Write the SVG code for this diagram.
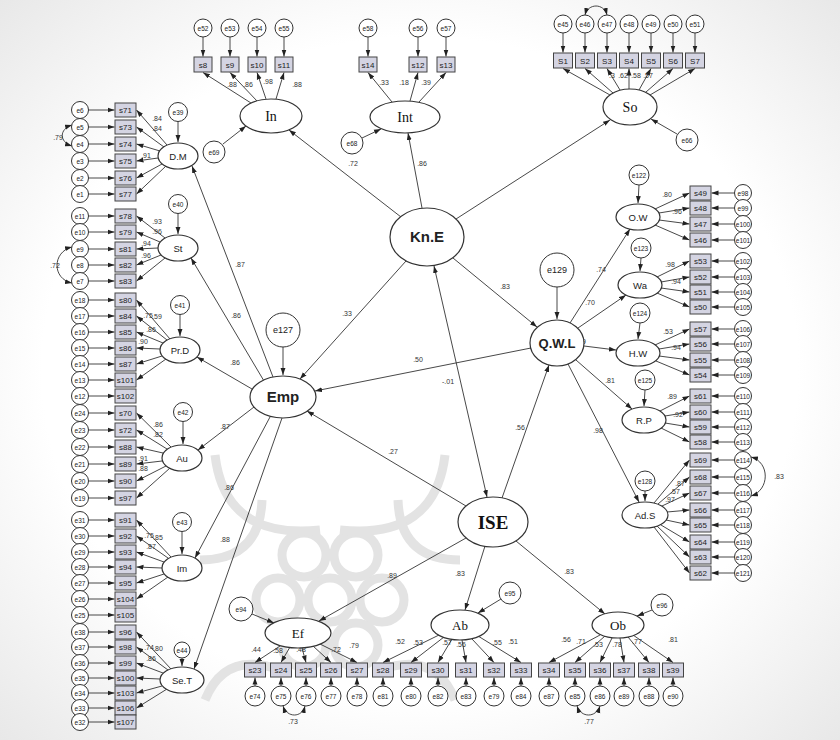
<svg xmlns="http://www.w3.org/2000/svg" width="840" height="740" viewBox="0 0 840 740">
<defs>
<radialGradient id="bg" cx="50%" cy="50%" r="75%"><stop offset="0.6" stop-color="#ffffff"/><stop offset="1" stop-color="#e4e4e4"/></radialGradient>
<marker id="a" viewBox="0 0 10 10" refX="10" refY="5" markerWidth="7" markerHeight="7" orient="auto" markerUnits="userSpaceOnUse"><path d="M0,1.5 L10,5 L0,8.5 z" fill="#222"/></marker>
<marker id="a2" viewBox="0 0 10 10" refX="10" refY="5" markerWidth="7" markerHeight="7" orient="auto-start-reverse" markerUnits="userSpaceOnUse"><path d="M0,1.5 L10,5 L0,8.5 z" fill="#222"/></marker>
</defs>
<style>
.c{stroke:#333;stroke-width:0.9;fill:none}
.ar{marker-end:url(#a)}
.db{marker-start:url(#a2);marker-end:url(#a2)}
.e{fill:#fff;stroke:#333;stroke-width:1}
.b{fill:#d4d4e2;stroke:#444;stroke-width:1}
.l{fill:#fff;stroke:#333;stroke-width:1.2}
.tx{font-family:"Liberation Sans",Arial,sans-serif;fill:#222;text-anchor:middle}
.et{font-size:6.5px}
.bt{font-size:8px}
.lt{font-size:9.5px}
.big{font-size:15px;font-weight:bold}
.pl{font-family:"Liberation Sans",Arial,sans-serif;font-size:7px;fill:#333;text-anchor:middle}
.sf{font-family:"Liberation Serif","Times New Roman",serif;fill:#111;text-anchor:middle}
</style>
<rect width="840" height="740" fill="url(#bg)"/>
<g id="watermark" fill="none" stroke="#e3e3e3" stroke-width="9">
<circle cx="330" cy="600" r="22"/>
<circle cx="382" cy="600" r="22"/><circle cx="356" cy="645" r="22"/><circle cx="304" cy="645" r="22"/>
<circle cx="278" cy="600" r="22"/><circle cx="304" cy="555" r="22"/><circle cx="356" cy="555" r="22"/>
<path d="M215,455 Q225,540 320,530"/><path d="M445,455 Q435,540 340,530"/>
<path d="M200,560 Q260,560 262,500"/><path d="M460,560 Q400,560 398,500"/>
<path d="M205,700 Q225,650 280,670"/><path d="M455,700 Q435,650 380,670"/>
</g>

<g id="connectors">
<!-- structural -->
<line class="c ar" x1="401" y1="217" x2="289" y2="130"/>
<line class="c ar" x1="422" y1="208" x2="408" y2="133"/>
<line class="c ar" x1="456" y1="219" x2="610" y2="120"/>
<line class="c ar" x1="453" y1="258" x2="537" y2="327"/>
<line class="c ar" x1="406" y1="261" x2="300" y2="379"/>
<line class="c ar" x1="531" y1="348" x2="315" y2="391"/>
<line class="c db" x1="487" y1="497" x2="434" y2="266"/>
<line class="c ar" x1="502" y1="498" x2="549" y2="365"/>
<line class="c ar" x1="466" y1="506" x2="307" y2="411"/>
<line class="c ar" x1="466" y1="538" x2="319" y2="621"/>
<line class="c ar" x1="485" y1="546" x2="465" y2="610"/>
<line class="c ar" x1="516" y1="541" x2="605" y2="614"/>
<line class="c ar" x1="570" y1="323" x2="630" y2="229"/>
<line class="c ar" x1="578" y1="328" x2="626" y2="295"/>
<line class="c ar" x1="584" y1="346" x2="616" y2="350"/>
<line class="c ar" x1="576" y1="360" x2="632" y2="409"/>
<line class="c ar" x1="568" y1="364" x2="639" y2="502"/>
<line class="c ar" x1="273" y1="377" x2="192" y2="166"/>
<line class="c ar" x1="264" y1="381" x2="191" y2="258"/>
<line class="c ar" x1="252" y1="389" x2="197" y2="357"/>
<line class="c ar" x1="254" y1="407" x2="198" y2="450"/>
<line class="c ar" x1="270" y1="417" x2="195" y2="558"/>
<line class="c ar" x1="282" y1="418" x2="194" y2="669"/>
<!-- residuals -->
<line class="c ar" x1="178" y1="121" x2="178" y2="142"/>
<line class="c ar" x1="178" y1="213" x2="178" y2="234"/>
<line class="c ar" x1="180" y1="314" x2="180" y2="336"/>
<line class="c ar" x1="183" y1="421" x2="183" y2="444"/>
<line class="c ar" x1="182" y1="531" x2="182" y2="554"/>
<line class="c ar" x1="182" y1="658" x2="182" y2="666"/>
<line class="c ar" x1="283" y1="347" x2="283" y2="375"/>
<line class="c ar" x1="557" y1="287" x2="557" y2="319"/>
<line class="c ar" x1="639" y1="185" x2="638" y2="203"/>
<line class="c ar" x1="641" y1="258" x2="640" y2="271"/>
<line class="c ar" x1="640" y1="323" x2="638" y2="339"/>
<line class="c ar" x1="645" y1="390" x2="644" y2="406"/>
<line class="c ar" x1="645" y1="491" x2="645" y2="501"/>
<line class="c ar" x1="252" y1="614" x2="274" y2="623"/>
<line class="c ar" x1="501" y1="599" x2="478" y2="613"/>
<line class="c ar" x1="652" y1="610" x2="637" y2="616"/>
<line class="c ar" x1="223" y1="144" x2="246" y2="126"/>
<line class="c ar" x1="362" y1="138" x2="381" y2="129"/>
<line class="c ar" x1="677" y1="134" x2="651" y2="119"/>
<!-- top indicators -->
<line class="c ar" x1="251" y1="103" x2="203" y2="72.5"/>
<line class="c ar" x1="257" y1="101" x2="230" y2="72.5"/>
<line class="c ar" x1="266" y1="99" x2="257" y2="72.5"/>
<line class="c ar" x1="276" y1="99" x2="284" y2="72.5"/>
<line class="c ar" x1="392" y1="102" x2="368" y2="72.5"/>
<line class="c ar" x1="410" y1="101" x2="418" y2="72.5"/>
<line class="c ar" x1="419" y1="102" x2="446" y2="72.5"/>
<line class="c ar" x1="610" y1="95" x2="563" y2="68.5"/>
<line class="c ar" x1="613" y1="93" x2="585" y2="68.5"/>
<line class="c ar" x1="620" y1="90" x2="607" y2="68.5"/>
<line class="c ar" x1="629" y1="89" x2="629" y2="68.5"/>
<line class="c ar" x1="639" y1="90" x2="651" y2="68.5"/>
<line class="c ar" x1="646" y1="92" x2="673" y2="68.5"/>
<line class="c ar" x1="650" y1="95" x2="695" y2="68.5"/>
<line class="c ar" x1="203" y1="37" x2="203" y2="56.5"/>
<line class="c ar" x1="230" y1="37" x2="230" y2="56.5"/>
<line class="c ar" x1="257" y1="37" x2="257" y2="56.5"/>
<line class="c ar" x1="284" y1="37" x2="284" y2="56.5"/>
<line class="c ar" x1="368" y1="37" x2="368" y2="56.5"/>
<line class="c ar" x1="418" y1="37" x2="418" y2="56.5"/>
<line class="c ar" x1="446" y1="37" x2="446" y2="56.5"/>
<line class="c ar" x1="563" y1="33" x2="563" y2="52.5"/>
<line class="c ar" x1="585" y1="33" x2="585" y2="52.5"/>
<line class="c ar" x1="607" y1="33" x2="607" y2="52.5"/>
<line class="c ar" x1="629" y1="33" x2="629" y2="52.5"/>
<line class="c ar" x1="651" y1="33" x2="651" y2="52.5"/>
<line class="c ar" x1="673" y1="33" x2="673" y2="52.5"/>
<line class="c ar" x1="695" y1="33" x2="695" y2="52.5"/>
<path class="c db" d="M585,15 C588,3 604,3 607,15"/>
<!-- left indicators -->
<line class="c ar" x1="167" y1="145" x2="136.5" y2="110"/>
<line class="c ar" x1="164" y1="147" x2="136.5" y2="127"/>
<line class="c ar" x1="160" y1="151" x2="136.5" y2="144"/>
<line class="c ar" x1="158" y1="158" x2="136.5" y2="161"/>
<line class="c ar" x1="162" y1="164" x2="136.5" y2="178"/>
<line class="c ar" x1="166" y1="166" x2="136.5" y2="194"/>
<line class="c ar" x1="165" y1="238" x2="136.5" y2="216"/>
<line class="c ar" x1="160" y1="242" x2="136.5" y2="232"/>
<line class="c ar" x1="158" y1="248" x2="136.5" y2="249"/>
<line class="c ar" x1="161" y1="255" x2="136.5" y2="265"/>
<line class="c ar" x1="165" y1="258" x2="136.5" y2="281"/>
<line class="c ar" x1="170" y1="339" x2="136.5" y2="300"/>
<line class="c ar" x1="167" y1="340" x2="136.5" y2="316"/>
<line class="c ar" x1="163" y1="343" x2="136.5" y2="332"/>
<line class="c ar" x1="160" y1="349" x2="136.5" y2="348"/>
<line class="c ar" x1="162" y1="356" x2="136.5" y2="364"/>
<line class="c ar" x1="166" y1="359" x2="136.5" y2="380"/>
<line class="c ar" x1="171" y1="447" x2="136.5" y2="413"/>
<line class="c ar" x1="167" y1="449" x2="136.5" y2="430"/>
<line class="c ar" x1="163" y1="453" x2="136.5" y2="447"/>
<line class="c ar" x1="162" y1="461" x2="136.5" y2="464"/>
<line class="c ar" x1="166" y1="466" x2="136.5" y2="481"/>
<line class="c ar" x1="170" y1="468" x2="136.5" y2="498"/>
<line class="c ar" x1="171" y1="557" x2="136.5" y2="520"/>
<line class="c ar" x1="168" y1="558" x2="136.5" y2="536"/>
<line class="c ar" x1="164" y1="562" x2="136.5" y2="552"/>
<line class="c ar" x1="162" y1="568" x2="136.5" y2="567"/>
<line class="c ar" x1="164" y1="574" x2="136.5" y2="583"/>
<line class="c ar" x1="168" y1="577" x2="136.5" y2="599"/>
<line class="c ar" x1="171" y1="669" x2="136.5" y2="632"/>
<line class="c ar" x1="168" y1="670" x2="136.5" y2="647"/>
<line class="c ar" x1="163" y1="673" x2="136.5" y2="663"/>
<line class="c ar" x1="160" y1="679" x2="136.5" y2="678"/>
<line class="c ar" x1="162" y1="686" x2="136.5" y2="693"/>
<line class="c ar" x1="167" y1="689" x2="136.5" y2="708"/>
<!-- left error arrows -->
<line class="c ar" x1="88.5" y1="110" x2="114.5" y2="110"/><line class="c ar" x1="88.5" y1="127" x2="114.5" y2="127"/><line class="c ar" x1="88.5" y1="144" x2="114.5" y2="144"/><line class="c ar" x1="88.5" y1="161" x2="114.5" y2="161"/><line class="c ar" x1="88.5" y1="178" x2="114.5" y2="178"/><line class="c ar" x1="88.5" y1="194" x2="114.5" y2="194"/>
<line class="c ar" x1="88.5" y1="216" x2="114.5" y2="216"/><line class="c ar" x1="88.5" y1="232" x2="114.5" y2="232"/><line class="c ar" x1="88.5" y1="249" x2="114.5" y2="249"/><line class="c ar" x1="88.5" y1="265" x2="114.5" y2="265"/><line class="c ar" x1="88.5" y1="281" x2="114.5" y2="281"/>
<line class="c ar" x1="88.5" y1="300" x2="114.5" y2="300"/><line class="c ar" x1="88.5" y1="316" x2="114.5" y2="316"/><line class="c ar" x1="88.5" y1="332" x2="114.5" y2="332"/><line class="c ar" x1="88.5" y1="348" x2="114.5" y2="348"/><line class="c ar" x1="88.5" y1="364" x2="114.5" y2="364"/><line class="c ar" x1="88.5" y1="380" x2="114.5" y2="380"/><line class="c ar" x1="88.5" y1="396" x2="114.5" y2="396"/>
<line class="c ar" x1="88.5" y1="413" x2="114.5" y2="413"/><line class="c ar" x1="88.5" y1="430" x2="114.5" y2="430"/><line class="c ar" x1="88.5" y1="447" x2="114.5" y2="447"/><line class="c ar" x1="88.5" y1="464" x2="114.5" y2="464"/><line class="c ar" x1="88.5" y1="481" x2="114.5" y2="481"/><line class="c ar" x1="88.5" y1="498" x2="114.5" y2="498"/>
<line class="c ar" x1="88.5" y1="520" x2="114.5" y2="520"/><line class="c ar" x1="88.5" y1="536" x2="114.5" y2="536"/><line class="c ar" x1="88.5" y1="552" x2="114.5" y2="552"/><line class="c ar" x1="88.5" y1="567" x2="114.5" y2="567"/><line class="c ar" x1="88.5" y1="583" x2="114.5" y2="583"/><line class="c ar" x1="88.5" y1="599" x2="114.5" y2="599"/><line class="c ar" x1="88.5" y1="615" x2="114.5" y2="615"/>
<line class="c ar" x1="88.5" y1="632" x2="114.5" y2="632"/><line class="c ar" x1="88.5" y1="647" x2="114.5" y2="647"/><line class="c ar" x1="88.5" y1="663" x2="114.5" y2="663"/><line class="c ar" x1="88.5" y1="678" x2="114.5" y2="678"/><line class="c ar" x1="88.5" y1="693" x2="114.5" y2="693"/><line class="c ar" x1="88.5" y1="708" x2="114.5" y2="708"/><line class="c ar" x1="88.5" y1="722" x2="114.5" y2="722"/>
<path class="c db" d="M72,125 C59,129 59,142 72,146"/>
<path class="c db" d="M72,247 C52,252 52,279 72,283"/>
<!-- right indicators -->
<line class="c ar" x1="655" y1="209" x2="689.5" y2="193"/><line class="c ar" x1="659" y1="213" x2="689.5" y2="208"/><line class="c ar" x1="659" y1="220" x2="689.5" y2="224"/><line class="c ar" x1="655" y1="225" x2="689.5" y2="240"/>
<line class="c ar" x1="657" y1="277" x2="689.5" y2="261"/><line class="c ar" x1="661" y1="282" x2="689.5" y2="277"/><line class="c ar" x1="661" y1="288" x2="689.5" y2="292"/><line class="c ar" x1="657" y1="293" x2="689.5" y2="307"/>
<line class="c ar" x1="655" y1="345" x2="689.5" y2="329"/><line class="c ar" x1="659" y1="349" x2="689.5" y2="344"/><line class="c ar" x1="659" y1="356" x2="689.5" y2="360"/><line class="c ar" x1="656" y1="361" x2="689.5" y2="375"/>
<line class="c ar" x1="660" y1="411" x2="689.5" y2="396"/><line class="c ar" x1="665" y1="416" x2="689.5" y2="412"/><line class="c ar" x1="665" y1="423" x2="689.5" y2="427"/><line class="c ar" x1="661" y1="428" x2="689.5" y2="442"/>
<line class="c ar" x1="654" y1="503" x2="689.5" y2="460"/><line class="c ar" x1="658" y1="504" x2="689.5" y2="477"/><line class="c ar" x1="662" y1="506" x2="689.5" y2="493"/><line class="c ar" x1="667" y1="512" x2="689.5" y2="510"/><line class="c ar" x1="666" y1="520" x2="689.5" y2="525"/><line class="c ar" x1="661" y1="525" x2="689.5" y2="542"/><line class="c ar" x1="657" y1="526" x2="689.5" y2="557"/><line class="c ar" x1="654" y1="527" x2="689.5" y2="573"/>
<!-- right error arrows -->
<line class="c ar" x1="734.5" y1="193" x2="711.5" y2="193"/><line class="c ar" x1="734.5" y1="208" x2="711.5" y2="208"/><line class="c ar" x1="734.5" y1="224" x2="711.5" y2="224"/><line class="c ar" x1="734.5" y1="240" x2="711.5" y2="240"/>
<line class="c ar" x1="734.5" y1="261" x2="711.5" y2="261"/><line class="c ar" x1="734.5" y1="277" x2="711.5" y2="277"/><line class="c ar" x1="734.5" y1="292" x2="711.5" y2="292"/><line class="c ar" x1="734.5" y1="307" x2="711.5" y2="307"/>
<line class="c ar" x1="734.5" y1="329" x2="711.5" y2="329"/><line class="c ar" x1="734.5" y1="344" x2="711.5" y2="344"/><line class="c ar" x1="734.5" y1="360" x2="711.5" y2="360"/><line class="c ar" x1="734.5" y1="375" x2="711.5" y2="375"/>
<line class="c ar" x1="734.5" y1="396" x2="711.5" y2="396"/><line class="c ar" x1="734.5" y1="412" x2="711.5" y2="412"/><line class="c ar" x1="734.5" y1="427" x2="711.5" y2="427"/><line class="c ar" x1="734.5" y1="442" x2="711.5" y2="442"/>
<line class="c ar" x1="734.5" y1="460" x2="711.5" y2="460"/><line class="c ar" x1="734.5" y1="477" x2="711.5" y2="477"/><line class="c ar" x1="734.5" y1="493" x2="711.5" y2="493"/><line class="c ar" x1="734.5" y1="510" x2="711.5" y2="510"/><line class="c ar" x1="734.5" y1="525" x2="711.5" y2="525"/><line class="c ar" x1="734.5" y1="542" x2="711.5" y2="542"/><line class="c ar" x1="734.5" y1="557" x2="711.5" y2="557"/><line class="c ar" x1="734.5" y1="573" x2="711.5" y2="573"/>
<path class="c db" d="M751,457 C770,462 770,490 751,496"/>
<!-- bottom indicators -->
<line class="c ar" x1="280" y1="646" x2="255" y2="662.5"/><line class="c ar" x1="290" y1="647" x2="281" y2="662.5"/><line class="c ar" x1="302" y1="648" x2="306" y2="662.5"/><line class="c ar" x1="313" y1="646" x2="331" y2="662.5"/><line class="c ar" x1="320" y1="644" x2="357" y2="662.5"/>
<line class="c ar" x1="439" y1="635" x2="383" y2="662.5"/><line class="c ar" x1="444" y1="637" x2="411" y2="662.5"/><line class="c ar" x1="452" y1="639" x2="438" y2="662.5"/><line class="c ar" x1="462" y1="640" x2="466" y2="662.5"/><line class="c ar" x1="472" y1="639" x2="494" y2="662.5"/><line class="c ar" x1="478" y1="636" x2="521" y2="662.5"/>
<line class="c ar" x1="600" y1="635" x2="549" y2="662.5"/><line class="c ar" x1="605" y1="636" x2="575" y2="662.5"/><line class="c ar" x1="612" y1="638" x2="600" y2="662.5"/><line class="c ar" x1="620" y1="638" x2="624" y2="662.5"/><line class="c ar" x1="628" y1="637" x2="649" y2="662.5"/><line class="c ar" x1="633" y1="635" x2="673" y2="662.5"/>
<line class="c ar" x1="255" y1="686" x2="255" y2="677.5"/><line class="c ar" x1="281" y1="686" x2="281" y2="677.5"/><line class="c ar" x1="306" y1="686" x2="306" y2="677.5"/><line class="c ar" x1="331" y1="686" x2="331" y2="677.5"/><line class="c ar" x1="357" y1="686" x2="357" y2="677.5"/>
<line class="c ar" x1="383" y1="686" x2="383" y2="677.5"/><line class="c ar" x1="411" y1="686" x2="411" y2="677.5"/><line class="c ar" x1="438" y1="686" x2="438" y2="677.5"/><line class="c ar" x1="466" y1="686" x2="466" y2="677.5"/><line class="c ar" x1="494" y1="686" x2="494" y2="677.5"/><line class="c ar" x1="521" y1="686" x2="521" y2="677.5"/>
<line class="c ar" x1="549" y1="686" x2="549" y2="677.5"/><line class="c ar" x1="575" y1="686" x2="575" y2="677.5"/><line class="c ar" x1="600" y1="686" x2="600" y2="677.5"/><line class="c ar" x1="624" y1="686" x2="624" y2="677.5"/><line class="c ar" x1="649" y1="686" x2="649" y2="677.5"/><line class="c ar" x1="673" y1="686" x2="673" y2="677.5"/>
<path class="c db" d="M283,706 C287,718 302,718 305,706"/>
<path class="c db" d="M577,706 C581,718 596,718 600,706"/>
</g>

<g id="path-labels" class="pl">
<text x="353" y="166">.72</text><text x="422" y="166">.86</text><text x="505" y="289">.83</text><text x="347" y="316">.33</text>
<text x="418" y="362">.50</text><text x="448" y="384">-.01</text><text x="520" y="430">.56</text><text x="393" y="454">.27</text>
<text x="392" y="578">.89</text><text x="460" y="576">.83</text><text x="569" y="574">.83</text>
<text x="601" y="272">.74</text><text x="590" y="305">.70</text><text x="581" y="344">.79</text><text x="610" y="383">.81</text><text x="598" y="433">.98</text>
<text x="240" y="267">.87</text><text x="236" y="318">.86</text><text x="235" y="365">.86</text><text x="225" y="429">.87</text><text x="229" y="490">.86</text><text x="225" y="542">.88</text>
<text x="232" y="87">.88</text><text x="248" y="87">.86</text><text x="268" y="84">.98</text><text x="297" y="87">.88</text>
<text x="384" y="85">.33</text><text x="404" y="85">.18</text><text x="426" y="85">.39</text>
<text x="612" y="78">.3</text><text x="623" y="78">.62</text><text x="636" y="78">.58</text><text x="648" y="78">.57</text>
<text x="157" y="121">.84</text><text x="157" y="131">.84</text><text x="146" y="158">.91</text>
<text x="157" y="224">.93</text><text x="157" y="234">.96</text><text x="146" y="246">.94</text><text x="146" y="258">.96</text>
<text x="148" y="318">.75</text><text x="157" y="319">.59</text><text x="151" y="332">.86</text><text x="143" y="344">.90</text>
<text x="158" y="427">.86</text><text x="158" y="437">.82</text><text x="143" y="461">.91</text><text x="143" y="471">.88</text>
<text x="149" y="538">.75</text><text x="158" y="540">.85</text><text x="151" y="549">.87</text>
<text x="149" y="650">.74</text><text x="158" y="651">.80</text><text x="151" y="661">.86</text>
<text x="667" y="197">.80</text><text x="677" y="214">.96</text><text x="670" y="267">.98</text><text x="676" y="284">.94</text>
<text x="668" y="334">.53</text><text x="676" y="350">.94</text><text x="672" y="399">.89</text><text x="678" y="417">.92</text>
<text x="680" y="486">.87</text><text x="675" y="494">.57</text><text x="670" y="502">.97</text>
<text x="256" y="652">.44</text><text x="278" y="653">.58</text><text x="301" y="652">.48</text><text x="336" y="652">.72</text><text x="354" y="648">.79</text>
<text x="400" y="644">.52</text><text x="418" y="645">.53</text><text x="447" y="645">.57</text><text x="461" y="647">.56</text><text x="497" y="645">.55</text><text x="513" y="644">.51</text>
<text x="566" y="642">.56</text><text x="581" y="644">.71</text><text x="598" y="647">.53</text><text x="617" y="647">.78</text><text x="637" y="644">.77</text><text x="673" y="642">.81</text>
<text x="58" y="140">.79</text><text x="55" y="268">.72</text><text x="779" y="479">.83</text><text x="293" y="724">.73</text><text x="589" y="724">.77</text>
</g>

<!-- central latent nodes -->
<g id="KnE"><ellipse class="l" cx="427" cy="237" rx="37" ry="29"/><text class="tx big" x="427" y="242">Kn.E</text></g>
<g id="QWL"><ellipse class="l" cx="557" cy="343" rx="27" ry="23"/><text class="tx" x="557" y="348" style="font-size:13px;font-weight:bold">Q.W.L</text></g>
<g id="Emp"><ellipse class="l" cx="283" cy="397" rx="33" ry="21"/><text class="tx big" x="283" y="402">Emp</text></g>
<g id="ISE"><ellipse class="l" cx="493" cy="522" rx="35" ry="25"/><text class="sf" x="493" y="529" style="font-size:19px;font-weight:bold">ISE</text></g>
<g id="e127"><circle class="e" cx="283" cy="330" r="17"/><text class="tx" x="283" y="333" style="font-size:9px">e127</text></g>
<g id="e129"><circle class="e" cx="557" cy="270" r="17"/><text class="tx" x="557" y="273" style="font-size:9px">e129</text></g>

<!-- top latents -->
<g id="In"><ellipse class="l" cx="271" cy="116" rx="31" ry="17"/><text class="sf" x="271" y="121" style="font-size:14px">In</text></g>
<g id="Int"><ellipse class="l" cx="405" cy="117" rx="35" ry="16"/><text class="sf" x="405" y="122" style="font-size:14px">Int</text></g>
<g id="So"><ellipse class="l" cx="630" cy="107" rx="27" ry="18"/><text class="sf" x="630" y="112" style="font-size:14px">So</text></g>
<g id="e69"><circle class="e" cx="214" cy="152" r="11"/><text class="tx et" x="214" y="154.5">e69</text></g>
<g id="e68"><circle class="e" cx="352" cy="143" r="11"/><text class="tx et" x="352" y="145.5">e68</text></g>
<g id="e66"><circle class="e" cx="687" cy="140" r="11"/><text class="tx et" x="687" y="142.5">e66</text></g>

<!-- top indicators -->
<g id="s8"><rect class="b" x="194" y="57" width="18" height="15"/><text class="tx bt" x="203" y="67.5">s8</text></g>
<g id="s9"><rect class="b" x="221" y="57" width="18" height="15"/><text class="tx bt" x="230" y="67.5">s9</text></g>
<g id="s10"><rect class="b" x="248" y="57" width="18" height="15"/><text class="tx bt" x="257" y="67.5">s10</text></g>
<g id="s11"><rect class="b" x="275" y="57" width="18" height="15"/><text class="tx bt" x="284" y="67.5">s11</text></g>
<g id="s14"><rect class="b" x="359" y="57" width="18" height="15"/><text class="tx bt" x="368" y="67.5">s14</text></g>
<g id="s12"><rect class="b" x="409" y="57" width="18" height="15"/><text class="tx bt" x="418" y="67.5">s12</text></g>
<g id="s13"><rect class="b" x="437" y="57" width="18" height="15"/><text class="tx bt" x="446" y="67.5">s13</text></g>
<g id="e52"><circle class="e" cx="203" cy="28" r="9"/><text class="tx et" x="203" y="30.5">e52</text></g>
<g id="e53"><circle class="e" cx="230" cy="28" r="9"/><text class="tx et" x="230" y="30.5">e53</text></g>
<g id="e54"><circle class="e" cx="257" cy="28" r="9"/><text class="tx et" x="257" y="30.5">e54</text></g>
<g id="e55"><circle class="e" cx="284" cy="28" r="9"/><text class="tx et" x="284" y="30.5">e55</text></g>
<g id="e58"><circle class="e" cx="368" cy="28" r="9"/><text class="tx et" x="368" y="30.5">e58</text></g>
<g id="e56"><circle class="e" cx="418" cy="28" r="9"/><text class="tx et" x="418" y="30.5">e56</text></g>
<g id="e57"><circle class="e" cx="446" cy="28" r="9"/><text class="tx et" x="446" y="30.5">e57</text></g>
<g id="S1"><rect class="b" x="553.5" y="53" width="19" height="15"/><text class="tx bt" x="563" y="63.5">S1</text></g>
<g id="S2"><rect class="b" x="575.5" y="53" width="19" height="15"/><text class="tx bt" x="585" y="63.5">S2</text></g>
<g id="S3"><rect class="b" x="597.5" y="53" width="19" height="15"/><text class="tx bt" x="607" y="63.5">S3</text></g>
<g id="S4"><rect class="b" x="619.5" y="53" width="19" height="15"/><text class="tx bt" x="629" y="63.5">S4</text></g>
<g id="S5"><rect class="b" x="641.5" y="53" width="19" height="15"/><text class="tx bt" x="651" y="63.5">S5</text></g>
<g id="S6"><rect class="b" x="663.5" y="53" width="19" height="15"/><text class="tx bt" x="673" y="63.5">S6</text></g>
<g id="S7"><rect class="b" x="685.5" y="53" width="19" height="15"/><text class="tx bt" x="695" y="63.5">S7</text></g>
<g id="e45"><circle class="e" cx="563" cy="24" r="9"/><text class="tx et" x="563" y="26.5">e45</text></g>
<g id="e46"><circle class="e" cx="585" cy="24" r="9"/><text class="tx et" x="585" y="26.5">e46</text></g>
<g id="e47"><circle class="e" cx="607" cy="24" r="9"/><text class="tx et" x="607" y="26.5">e47</text></g>
<g id="e48"><circle class="e" cx="629" cy="24" r="9"/><text class="tx et" x="629" y="26.5">e48</text></g>
<g id="e49"><circle class="e" cx="651" cy="24" r="9"/><text class="tx et" x="651" y="26.5">e49</text></g>
<g id="e50"><circle class="e" cx="673" cy="24" r="9"/><text class="tx et" x="673" y="26.5">e50</text></g>
<g id="e51"><circle class="e" cx="695" cy="24" r="9"/><text class="tx et" x="695" y="26.5">e51</text></g>

<!-- left latents -->
<g id="DM"><ellipse class="l" cx="178" cy="156" rx="20" ry="13"/><text class="tx lt" x="178" y="159.5">D.M</text></g>
<g id="St"><ellipse class="l" cx="178" cy="248" rx="20" ry="13"/><text class="tx lt" x="178" y="251.5">St</text></g>
<g id="PrD"><ellipse class="l" cx="180" cy="350" rx="20" ry="13"/><text class="tx lt" x="180" y="353.5">Pr.D</text></g>
<g id="Au"><ellipse class="l" cx="182" cy="458" rx="20" ry="13"/><text class="tx lt" x="182" y="461.5">Au</text></g>
<g id="Im"><ellipse class="l" cx="182" cy="568" rx="20" ry="13"/><text class="tx lt" x="182" y="571.5">Im</text></g>
<g id="SeT"><ellipse class="l" cx="182" cy="680" rx="22" ry="13"/><text class="tx lt" x="182" y="683.5">Se.T</text></g>
<g id="e39"><circle class="e" cx="178" cy="112" r="9.5"/><text class="tx et" x="178" y="114.5">e39</text></g>
<g id="e40"><circle class="e" cx="178" cy="204" r="9.5"/><text class="tx et" x="178" y="206.5">e40</text></g>
<g id="e41"><circle class="e" cx="180" cy="305" r="9.5"/><text class="tx et" x="180" y="307.5">e41</text></g>
<g id="e42"><circle class="e" cx="183" cy="412" r="9.5"/><text class="tx et" x="183" y="414.5">e42</text></g>
<g id="e43"><circle class="e" cx="182" cy="522" r="9.5"/><text class="tx et" x="182" y="524.5">e43</text></g>
<g id="e44"><circle class="e" cx="182" cy="650" r="8"/><text class="tx et" x="182" y="652.5">e44</text></g>

<!-- left indicators -->
<g id="s71"><rect class="b" x="115" y="103" width="21" height="14"/><text class="tx bt" x="125.5" y="113">s71</text></g>
<g id="s73"><rect class="b" x="115" y="120" width="21" height="14"/><text class="tx bt" x="125.5" y="130">s73</text></g>
<g id="s74"><rect class="b" x="115" y="137" width="21" height="14"/><text class="tx bt" x="125.5" y="147">s74</text></g>
<g id="s75"><rect class="b" x="115" y="154" width="21" height="14"/><text class="tx bt" x="125.5" y="164">s75</text></g>
<g id="s76"><rect class="b" x="115" y="171" width="21" height="14"/><text class="tx bt" x="125.5" y="181">s76</text></g>
<g id="s77"><rect class="b" x="115" y="187" width="21" height="14"/><text class="tx bt" x="125.5" y="197">s77</text></g>
<g id="s78"><rect class="b" x="115" y="209" width="21" height="14"/><text class="tx bt" x="125.5" y="219">s78</text></g>
<g id="s79"><rect class="b" x="115" y="225" width="21" height="14"/><text class="tx bt" x="125.5" y="235">s79</text></g>
<g id="s81"><rect class="b" x="115" y="242" width="21" height="14"/><text class="tx bt" x="125.5" y="252">s81</text></g>
<g id="s82"><rect class="b" x="115" y="258" width="21" height="14"/><text class="tx bt" x="125.5" y="268">s82</text></g>
<g id="s83"><rect class="b" x="115" y="274" width="21" height="14"/><text class="tx bt" x="125.5" y="284">s83</text></g>
<g id="s80"><rect class="b" x="115" y="293" width="21" height="14"/><text class="tx bt" x="125.5" y="303">s80</text></g>
<g id="s84"><rect class="b" x="115" y="309" width="21" height="14"/><text class="tx bt" x="125.5" y="319">s84</text></g>
<g id="s85"><rect class="b" x="115" y="325" width="21" height="14"/><text class="tx bt" x="125.5" y="335">s85</text></g>
<g id="s86"><rect class="b" x="115" y="341" width="21" height="14"/><text class="tx bt" x="125.5" y="351">s86</text></g>
<g id="s87"><rect class="b" x="115" y="357" width="21" height="14"/><text class="tx bt" x="125.5" y="367">s87</text></g>
<g id="s101"><rect class="b" x="115" y="373" width="21" height="14"/><text class="tx bt" x="125.5" y="383">s101</text></g>
<g id="s102"><rect class="b" x="115" y="389" width="21" height="14"/><text class="tx bt" x="125.5" y="399">s102</text></g>
<g id="s70"><rect class="b" x="115" y="406" width="21" height="14"/><text class="tx bt" x="125.5" y="416">s70</text></g>
<g id="s72"><rect class="b" x="115" y="423" width="21" height="14"/><text class="tx bt" x="125.5" y="433">s72</text></g>
<g id="s88"><rect class="b" x="115" y="440" width="21" height="14"/><text class="tx bt" x="125.5" y="450">s88</text></g>
<g id="s89"><rect class="b" x="115" y="457" width="21" height="14"/><text class="tx bt" x="125.5" y="467">s89</text></g>
<g id="s90"><rect class="b" x="115" y="474" width="21" height="14"/><text class="tx bt" x="125.5" y="484">s90</text></g>
<g id="s97"><rect class="b" x="115" y="491" width="21" height="14"/><text class="tx bt" x="125.5" y="501">s97</text></g>
<g id="s91"><rect class="b" x="115" y="513" width="21" height="14"/><text class="tx bt" x="125.5" y="523">s91</text></g>
<g id="s92"><rect class="b" x="115" y="529" width="21" height="14"/><text class="tx bt" x="125.5" y="539">s92</text></g>
<g id="s93"><rect class="b" x="115" y="545" width="21" height="14"/><text class="tx bt" x="125.5" y="555">s93</text></g>
<g id="s94"><rect class="b" x="115" y="560" width="21" height="14"/><text class="tx bt" x="125.5" y="570">s94</text></g>
<g id="s95"><rect class="b" x="115" y="576" width="21" height="14"/><text class="tx bt" x="125.5" y="586">s95</text></g>
<g id="s104"><rect class="b" x="115" y="592" width="21" height="14"/><text class="tx bt" x="125.5" y="602">s104</text></g>
<g id="s105"><rect class="b" x="115" y="608" width="21" height="14"/><text class="tx bt" x="125.5" y="618">s105</text></g>
<g id="s96"><rect class="b" x="115" y="625" width="21" height="14"/><text class="tx bt" x="125.5" y="635">s96</text></g>
<g id="s98"><rect class="b" x="115" y="640" width="21" height="14"/><text class="tx bt" x="125.5" y="650">s98</text></g>
<g id="s99"><rect class="b" x="115" y="656" width="21" height="14"/><text class="tx bt" x="125.5" y="666">s99</text></g>
<g id="s100"><rect class="b" x="115" y="671" width="21" height="14"/><text class="tx bt" x="125.5" y="681">s100</text></g>
<g id="s103"><rect class="b" x="115" y="686" width="21" height="14"/><text class="tx bt" x="125.5" y="696">s103</text></g>
<g id="s106"><rect class="b" x="115" y="701" width="21" height="14"/><text class="tx bt" x="125.5" y="711">s106</text></g>
<g id="s107"><rect class="b" x="115" y="715" width="21" height="14"/><text class="tx bt" x="125.5" y="725">s107</text></g>

<!-- left errors -->
<g id="e6"><circle class="e" cx="80" cy="110" r="8.5"/><text class="tx et" x="80" y="112.5">e6</text></g>
<g id="e5"><circle class="e" cx="80" cy="127" r="8.5"/><text class="tx et" x="80" y="129.5">e5</text></g>
<g id="e4"><circle class="e" cx="80" cy="144" r="8.5"/><text class="tx et" x="80" y="146.5">e4</text></g>
<g id="e3"><circle class="e" cx="80" cy="161" r="8.5"/><text class="tx et" x="80" y="163.5">e3</text></g>
<g id="e2"><circle class="e" cx="80" cy="178" r="8.5"/><text class="tx et" x="80" y="180.5">e2</text></g>
<g id="e1"><circle class="e" cx="80" cy="194" r="8.5"/><text class="tx et" x="80" y="196.5">e1</text></g>
<g id="e11"><circle class="e" cx="80" cy="216" r="8.5"/><text class="tx et" x="80" y="218.5">e11</text></g>
<g id="e10"><circle class="e" cx="80" cy="232" r="8.5"/><text class="tx et" x="80" y="234.5">e10</text></g>
<g id="e9"><circle class="e" cx="80" cy="249" r="8.5"/><text class="tx et" x="80" y="251.5">e9</text></g>
<g id="e8"><circle class="e" cx="80" cy="265" r="8.5"/><text class="tx et" x="80" y="267.5">e8</text></g>
<g id="e7"><circle class="e" cx="80" cy="281" r="8.5"/><text class="tx et" x="80" y="283.5">e7</text></g>
<g id="e18"><circle class="e" cx="80" cy="300" r="8.5"/><text class="tx et" x="80" y="302.5">e18</text></g>
<g id="e17"><circle class="e" cx="80" cy="316" r="8.5"/><text class="tx et" x="80" y="318.5">e17</text></g>
<g id="e16"><circle class="e" cx="80" cy="332" r="8.5"/><text class="tx et" x="80" y="334.5">e16</text></g>
<g id="e15"><circle class="e" cx="80" cy="348" r="8.5"/><text class="tx et" x="80" y="350.5">e15</text></g>
<g id="e14"><circle class="e" cx="80" cy="364" r="8.5"/><text class="tx et" x="80" y="366.5">e14</text></g>
<g id="e13"><circle class="e" cx="80" cy="380" r="8.5"/><text class="tx et" x="80" y="382.5">e13</text></g>
<g id="e12"><circle class="e" cx="80" cy="396" r="8.5"/><text class="tx et" x="80" y="398.5">e12</text></g>
<g id="e24"><circle class="e" cx="80" cy="413" r="8.5"/><text class="tx et" x="80" y="415.5">e24</text></g>
<g id="e23"><circle class="e" cx="80" cy="430" r="8.5"/><text class="tx et" x="80" y="432.5">e23</text></g>
<g id="e22"><circle class="e" cx="80" cy="447" r="8.5"/><text class="tx et" x="80" y="449.5">e22</text></g>
<g id="e21"><circle class="e" cx="80" cy="464" r="8.5"/><text class="tx et" x="80" y="466.5">e21</text></g>
<g id="e20"><circle class="e" cx="80" cy="481" r="8.5"/><text class="tx et" x="80" y="483.5">e20</text></g>
<g id="e19"><circle class="e" cx="80" cy="498" r="8.5"/><text class="tx et" x="80" y="500.5">e19</text></g>
<g id="e31"><circle class="e" cx="80" cy="520" r="8.5"/><text class="tx et" x="80" y="522.5">e31</text></g>
<g id="e30"><circle class="e" cx="80" cy="536" r="8.5"/><text class="tx et" x="80" y="538.5">e30</text></g>
<g id="e29"><circle class="e" cx="80" cy="552" r="8.5"/><text class="tx et" x="80" y="554.5">e29</text></g>
<g id="e28"><circle class="e" cx="80" cy="567" r="8.5"/><text class="tx et" x="80" y="569.5">e28</text></g>
<g id="e27"><circle class="e" cx="80" cy="583" r="8.5"/><text class="tx et" x="80" y="585.5">e27</text></g>
<g id="e26"><circle class="e" cx="80" cy="599" r="8.5"/><text class="tx et" x="80" y="601.5">e26</text></g>
<g id="e25"><circle class="e" cx="80" cy="615" r="8.5"/><text class="tx et" x="80" y="617.5">e25</text></g>
<g id="e38"><circle class="e" cx="80" cy="632" r="8.5"/><text class="tx et" x="80" y="634.5">e38</text></g>
<g id="e37"><circle class="e" cx="80" cy="647" r="8.5"/><text class="tx et" x="80" y="649.5">e37</text></g>
<g id="e36"><circle class="e" cx="80" cy="663" r="8.5"/><text class="tx et" x="80" y="665.5">e36</text></g>
<g id="e35"><circle class="e" cx="80" cy="678" r="8.5"/><text class="tx et" x="80" y="680.5">e35</text></g>
<g id="e34"><circle class="e" cx="80" cy="693" r="8.5"/><text class="tx et" x="80" y="695.5">e34</text></g>
<g id="e33"><circle class="e" cx="80" cy="708" r="8.5"/><text class="tx et" x="80" y="710.5">e33</text></g>
<g id="e32"><circle class="e" cx="80" cy="722" r="8.5"/><text class="tx et" x="80" y="724.5">e32</text></g>

<!-- right latents -->
<g id="OW"><ellipse class="l" cx="638" cy="217" rx="22" ry="13"/><text class="tx lt" x="638" y="220.5">O.W</text></g>
<g id="Wa"><ellipse class="l" cx="640" cy="285" rx="22" ry="13"/><text class="tx lt" x="640" y="288.5">Wa</text></g>
<g id="HW"><ellipse class="l" cx="638" cy="353" rx="22" ry="13"/><text class="tx lt" x="638" y="356.5">H.W</text></g>
<g id="RP"><ellipse class="l" cx="644" cy="420" rx="22" ry="13"/><text class="tx lt" x="644" y="423.5">R.P</text></g>
<g id="AdS"><ellipse class="l" cx="645" cy="515" rx="23" ry="13"/><text class="tx lt" x="645" y="518.5">Ad.S</text></g>
<g id="e122"><circle class="e" cx="639" cy="175" r="10"/><text class="tx et" x="639" y="177.5">e122</text></g>
<g id="e123"><circle class="e" cx="641" cy="248" r="10"/><text class="tx et" x="641" y="250.5">e123</text></g>
<g id="e124"><circle class="e" cx="640" cy="313" r="10"/><text class="tx et" x="640" y="315.5">e124</text></g>
<g id="e125"><circle class="e" cx="645" cy="380" r="10"/><text class="tx et" x="645" y="382.5">e125</text></g>
<g id="e128"><circle class="e" cx="645" cy="481" r="10"/><text class="tx et" x="645" y="483.5">e128</text></g>

<!-- right indicators -->
<g id="s49"><rect class="b" x="690" y="186" width="21" height="14"/><text class="tx bt" x="700.5" y="196">s49</text></g>
<g id="s48"><rect class="b" x="690" y="201" width="21" height="14"/><text class="tx bt" x="700.5" y="211">s48</text></g>
<g id="s47"><rect class="b" x="690" y="217" width="21" height="14"/><text class="tx bt" x="700.5" y="227">s47</text></g>
<g id="s46"><rect class="b" x="690" y="233" width="21" height="14"/><text class="tx bt" x="700.5" y="243">s46</text></g>
<g id="s53"><rect class="b" x="690" y="254" width="21" height="14"/><text class="tx bt" x="700.5" y="264">s53</text></g>
<g id="s52"><rect class="b" x="690" y="270" width="21" height="14"/><text class="tx bt" x="700.5" y="280">s52</text></g>
<g id="s51"><rect class="b" x="690" y="285" width="21" height="14"/><text class="tx bt" x="700.5" y="295">s51</text></g>
<g id="s50"><rect class="b" x="690" y="300" width="21" height="14"/><text class="tx bt" x="700.5" y="310">s50</text></g>
<g id="s57"><rect class="b" x="690" y="322" width="21" height="14"/><text class="tx bt" x="700.5" y="332">s57</text></g>
<g id="s56"><rect class="b" x="690" y="337" width="21" height="14"/><text class="tx bt" x="700.5" y="347">s56</text></g>
<g id="s55"><rect class="b" x="690" y="353" width="21" height="14"/><text class="tx bt" x="700.5" y="363">s55</text></g>
<g id="s54"><rect class="b" x="690" y="368" width="21" height="14"/><text class="tx bt" x="700.5" y="378">s54</text></g>
<g id="s61"><rect class="b" x="690" y="389" width="21" height="14"/><text class="tx bt" x="700.5" y="399">s61</text></g>
<g id="s60"><rect class="b" x="690" y="405" width="21" height="14"/><text class="tx bt" x="700.5" y="415">s60</text></g>
<g id="s59"><rect class="b" x="690" y="420" width="21" height="14"/><text class="tx bt" x="700.5" y="430">s59</text></g>
<g id="s58"><rect class="b" x="690" y="435" width="21" height="14"/><text class="tx bt" x="700.5" y="445">s58</text></g>
<g id="s69"><rect class="b" x="690" y="453" width="21" height="14"/><text class="tx bt" x="700.5" y="463">s69</text></g>
<g id="s68"><rect class="b" x="690" y="470" width="21" height="14"/><text class="tx bt" x="700.5" y="480">s68</text></g>
<g id="s67"><rect class="b" x="690" y="486" width="21" height="14"/><text class="tx bt" x="700.5" y="496">s67</text></g>
<g id="s66"><rect class="b" x="690" y="503" width="21" height="14"/><text class="tx bt" x="700.5" y="513">s66</text></g>
<g id="s65"><rect class="b" x="690" y="518" width="21" height="14"/><text class="tx bt" x="700.5" y="528">s65</text></g>
<g id="s64"><rect class="b" x="690" y="535" width="21" height="14"/><text class="tx bt" x="700.5" y="545">s64</text></g>
<g id="s63"><rect class="b" x="690" y="550" width="21" height="14"/><text class="tx bt" x="700.5" y="560">s63</text></g>
<g id="s62"><rect class="b" x="690" y="566" width="21" height="14"/><text class="tx bt" x="700.5" y="576">s62</text></g>

<!-- right errors -->
<g id="e98"><circle class="e" cx="743" cy="193" r="8.5"/><text class="tx et" x="743" y="195.5">e98</text></g>
<g id="e99"><circle class="e" cx="743" cy="208" r="8.5"/><text class="tx et" x="743" y="210.5">e99</text></g>
<g id="e100"><circle class="e" cx="743" cy="224" r="8.5"/><text class="tx et" x="743" y="226.5">e100</text></g>
<g id="e101"><circle class="e" cx="743" cy="240" r="8.5"/><text class="tx et" x="743" y="242.5">e101</text></g>
<g id="e102"><circle class="e" cx="743" cy="261" r="8.5"/><text class="tx et" x="743" y="263.5">e102</text></g>
<g id="e103"><circle class="e" cx="743" cy="277" r="8.5"/><text class="tx et" x="743" y="279.5">e103</text></g>
<g id="e104"><circle class="e" cx="743" cy="292" r="8.5"/><text class="tx et" x="743" y="294.5">e104</text></g>
<g id="e105"><circle class="e" cx="743" cy="307" r="8.5"/><text class="tx et" x="743" y="309.5">e105</text></g>
<g id="e106"><circle class="e" cx="743" cy="329" r="8.5"/><text class="tx et" x="743" y="331.5">e106</text></g>
<g id="e107"><circle class="e" cx="743" cy="344" r="8.5"/><text class="tx et" x="743" y="346.5">e107</text></g>
<g id="e108"><circle class="e" cx="743" cy="360" r="8.5"/><text class="tx et" x="743" y="362.5">e108</text></g>
<g id="e109"><circle class="e" cx="743" cy="375" r="8.5"/><text class="tx et" x="743" y="377.5">e109</text></g>
<g id="e110"><circle class="e" cx="743" cy="396" r="8.5"/><text class="tx et" x="743" y="398.5">e110</text></g>
<g id="e111"><circle class="e" cx="743" cy="412" r="8.5"/><text class="tx et" x="743" y="414.5">e111</text></g>
<g id="e112"><circle class="e" cx="743" cy="427" r="8.5"/><text class="tx et" x="743" y="429.5">e112</text></g>
<g id="e113"><circle class="e" cx="743" cy="442" r="8.5"/><text class="tx et" x="743" y="444.5">e113</text></g>
<g id="e114"><circle class="e" cx="743" cy="460" r="8.5"/><text class="tx et" x="743" y="462.5">e114</text></g>
<g id="e115"><circle class="e" cx="743" cy="477" r="8.5"/><text class="tx et" x="743" y="479.5">e115</text></g>
<g id="e116"><circle class="e" cx="743" cy="493" r="8.5"/><text class="tx et" x="743" y="495.5">e116</text></g>
<g id="e117"><circle class="e" cx="743" cy="510" r="8.5"/><text class="tx et" x="743" y="512.5">e117</text></g>
<g id="e118"><circle class="e" cx="743" cy="525" r="8.5"/><text class="tx et" x="743" y="527.5">e118</text></g>
<g id="e119"><circle class="e" cx="743" cy="542" r="8.5"/><text class="tx et" x="743" y="544.5">e119</text></g>
<g id="e120"><circle class="e" cx="743" cy="557" r="8.5"/><text class="tx et" x="743" y="559.5">e120</text></g>
<g id="e121"><circle class="e" cx="743" cy="573" r="8.5"/><text class="tx et" x="743" y="575.5">e121</text></g>

<!-- bottom latents -->
<g id="Ef"><ellipse class="l" cx="298" cy="633" rx="33" ry="15"/><text class="sf" x="298" y="638" style="font-size:13px">Ef</text></g>
<g id="Ab"><ellipse class="l" cx="460" cy="625" rx="29" ry="15"/><text class="sf" x="460" y="630" style="font-size:13px">Ab</text></g>
<g id="Ob"><ellipse class="l" cx="618" cy="625" rx="26" ry="13"/><text class="sf" x="618" y="630" style="font-size:13px">Ob</text></g>
<g id="e94"><circle class="e" cx="241" cy="609" r="12"/><text class="tx et" x="241" y="611.5">e94</text></g>
<g id="e95"><circle class="e" cx="510" cy="593" r="11"/><text class="tx et" x="510" y="595.5">e95</text></g>
<g id="e96"><circle class="e" cx="662" cy="605" r="11"/><text class="tx et" x="662" y="607.5">e96</text></g>

<!-- bottom indicators -->
<g id="s23"><rect class="b" x="244.5" y="663" width="21" height="14"/><text class="tx bt" x="255" y="673">s23</text></g>
<g id="s24"><rect class="b" x="270.5" y="663" width="21" height="14"/><text class="tx bt" x="281" y="673">s24</text></g>
<g id="s25"><rect class="b" x="295.5" y="663" width="21" height="14"/><text class="tx bt" x="306" y="673">s25</text></g>
<g id="s26"><rect class="b" x="320.5" y="663" width="21" height="14"/><text class="tx bt" x="331" y="673">s26</text></g>
<g id="s27"><rect class="b" x="346.5" y="663" width="21" height="14"/><text class="tx bt" x="357" y="673">s27</text></g>
<g id="s28"><rect class="b" x="372.5" y="663" width="21" height="14"/><text class="tx bt" x="383" y="673">s28</text></g>
<g id="s29"><rect class="b" x="400.5" y="663" width="21" height="14"/><text class="tx bt" x="411" y="673">s29</text></g>
<g id="s30"><rect class="b" x="427.5" y="663" width="21" height="14"/><text class="tx bt" x="438" y="673">s30</text></g>
<g id="s31"><rect class="b" x="455.5" y="663" width="21" height="14"/><text class="tx bt" x="466" y="673">s31</text></g>
<g id="s32"><rect class="b" x="483.5" y="663" width="21" height="14"/><text class="tx bt" x="494" y="673">s32</text></g>
<g id="s33"><rect class="b" x="510.5" y="663" width="21" height="14"/><text class="tx bt" x="521" y="673">s33</text></g>
<g id="s34"><rect class="b" x="538.5" y="663" width="21" height="14"/><text class="tx bt" x="549" y="673">s34</text></g>
<g id="s35"><rect class="b" x="564.5" y="663" width="21" height="14"/><text class="tx bt" x="575" y="673">s35</text></g>
<g id="s36"><rect class="b" x="589.5" y="663" width="21" height="14"/><text class="tx bt" x="600" y="673">s36</text></g>
<g id="s37"><rect class="b" x="613.5" y="663" width="21" height="14"/><text class="tx bt" x="624" y="673">s37</text></g>
<g id="s38"><rect class="b" x="638.5" y="663" width="21" height="14"/><text class="tx bt" x="649" y="673">s38</text></g>
<g id="s39"><rect class="b" x="662.5" y="663" width="21" height="14"/><text class="tx bt" x="673" y="673">s39</text></g>

<!-- bottom errors -->
<g id="e74"><circle class="e" cx="255" cy="696" r="10"/><text class="tx et" x="255" y="698.5">e74</text></g>
<g id="e75"><circle class="e" cx="281" cy="696" r="10"/><text class="tx et" x="281" y="698.5">e75</text></g>
<g id="e76"><circle class="e" cx="306" cy="696" r="10"/><text class="tx et" x="306" y="698.5">e76</text></g>
<g id="e77"><circle class="e" cx="331" cy="696" r="10"/><text class="tx et" x="331" y="698.5">e77</text></g>
<g id="e78"><circle class="e" cx="357" cy="696" r="10"/><text class="tx et" x="357" y="698.5">e78</text></g>
<g id="e81"><circle class="e" cx="383" cy="696" r="10"/><text class="tx et" x="383" y="698.5">e81</text></g>
<g id="e80"><circle class="e" cx="411" cy="696" r="10"/><text class="tx et" x="411" y="698.5">e80</text></g>
<g id="e82"><circle class="e" cx="438" cy="696" r="10"/><text class="tx et" x="438" y="698.5">e82</text></g>
<g id="e83"><circle class="e" cx="466" cy="696" r="10"/><text class="tx et" x="466" y="698.5">e83</text></g>
<g id="e79"><circle class="e" cx="494" cy="696" r="10"/><text class="tx et" x="494" y="698.5">e79</text></g>
<g id="e84"><circle class="e" cx="521" cy="696" r="10"/><text class="tx et" x="521" y="698.5">e84</text></g>
<g id="e87"><circle class="e" cx="549" cy="696" r="10"/><text class="tx et" x="549" y="698.5">e87</text></g>
<g id="e85"><circle class="e" cx="575" cy="696" r="10"/><text class="tx et" x="575" y="698.5">e85</text></g>
<g id="e86"><circle class="e" cx="600" cy="696" r="10"/><text class="tx et" x="600" y="698.5">e86</text></g>
<g id="e89"><circle class="e" cx="624" cy="696" r="10"/><text class="tx et" x="624" y="698.5">e89</text></g>
<g id="e88"><circle class="e" cx="649" cy="696" r="10"/><text class="tx et" x="649" y="698.5">e88</text></g>
<g id="e90"><circle class="e" cx="673" cy="696" r="10"/><text class="tx et" x="673" y="698.5">e90</text></g>
</svg>
